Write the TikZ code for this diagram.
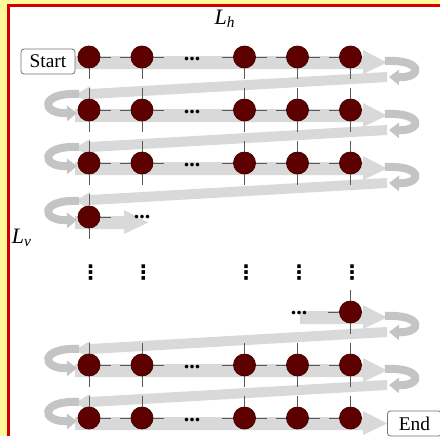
\documentclass[tikz,border=0pt]{standalone}
\usepackage{fontspec}
\setmainfont{Liberation Serif}
\newfontfamily\dotsfont{DejaVu Sans}
\usepackage{tikz}
\usetikzlibrary{arrows.meta}
\definecolor{framebg}{HTML}{FFFB9C}
\definecolor{framered}{HTML}{D40000}
\definecolor{sitered}{HTML}{5E0000}
\definecolor{bandgray}{HTML}{D9D9D9}
\definecolor{turngray}{HTML}{C4C4C4}
\tikzset{
  site/.style={circle,fill=sitered,draw=sitered!70!black,line width=0.4pt,inner sep=0pt,minimum size=11pt},
  link/.style={draw=black!65,line width=0.5pt,dash pattern=on 5.5pt off 4.5pt on 5.5pt off 20pt},
  stub/.style={draw=black!65,line width=0.5pt,dash pattern=on 5.5pt off 100pt},
  uturn/.style={draw=turngray,line width=4pt,-{Triangle[length=5pt,width=7.5pt]}},
  tag/.style={draw=black!55,fill=white,rounded corners=1.5pt,line width=0.4pt,minimum width=27pt,minimum height=12.5pt,inner sep=0pt,font=\fontsize{9.7}{10}\selectfont},
  dotrow/.style={inner sep=0pt,font=\fontsize{11}{11}\selectfont\bfseries},
  dotcol/.style={inner sep=0pt,font=\fontsize{10}{10}\selectfont\dotsfont\bfseries},
  size/.style={inner sep=0pt,font=\fontsize{11}{12}\selectfont\itshape}
}
\newcommand{\rowband}[3]{\fill[bandgray] (#1,#3-1) -- (#2-24,#3-1) -- (#2-24,#3-7) -- (#2,#3+5.5) -- (#2-24,#3+17) -- (#2-24,#3+12) -- (#1,#3+12) -- cycle;}
\newcommand{\backband}[1]{\fill[bandgray] (387,#1+15) -- (90,#1+32) -- (90,#1+29) -- (75,#1+38) -- (90,#1+46) -- (90,#1+42) -- (387,#1+25) -- cycle;}
\newcommand{\rightturn}[1]{\draw[uturn] (385,#1+4) .. controls (423,#1+2) and (423,#1+21) .. (389,#1+20);}
\newcommand{\leftturn}[1]{\draw[uturn] (79,#1-16) .. controls (40,#1-18) and (40,#1+4) .. (77,#1+3);}

\begin{document}
\begin{tikzpicture}[x=0.5pt,y=-0.5pt]
  \useasboundingbox (0,0) rectangle (440,436);
  \fill[framebg] (0,0) rectangle (440,436);
  \fill[white] (8.7,5.3) rectangle (440,436);
  \draw[framered,line width=1.35pt] (8.7,436) -- (8.7,5.3) -- (440,5.3);

  \foreach \y in {57,110,163,365,418} {\rowband{75}{387}{\y}}
  \rowband{75}{148}{217}
  \rowband{300}{387}{312}
  \foreach \y in {57,110,163,312,365} {\backband{\y}\rightturn{\y}}
  \foreach \y in {110,163,217,365,418} {\leftturn{\y}}

  \node[tag] (start) at (48,61.5) {Start};
  \node[tag] (end) at (414.5,423.5) {End};
  \node[size] (lh) at (225,19) {L\textsubscript{h}};
  \node[size] (lv) at (22,238) {L\textsubscript{v}};

  \foreach \r/\y in {1/57,2/110,3/163,6/365,7/418}{
    \foreach \c/\x in {1/89,2/142,3/244.5,4/297.5,5/350.5}
      \node[site] (n-\r-\c) at (\x,\y) {};
    \node[dotrow] (h-\r) at (192,\y+2) {...};
  }
  \node[site] (n-4-1) at (89,217) {};
  \node[site] (n-5-5) at (350.5,312) {};
  \node[dotrow] (h-4) at (142,217) {...};
  \node[dotrow] (h-5) at (299,313) {...};
  \foreach \c/\x in {1/89,2/142,3/244.5,4/297.5,5/350.5}
    \node[dotcol] (v-\c) at (\x+1.5,272.5) {⋮};

  \foreach \r in {1,2,3,6,7}{
    \draw[link] (n-\r-1) -- (n-\r-2);
    \draw[stub] (n-\r-2) -- (n-\r-3);
    \draw[stub] (n-\r-3) -- (n-\r-2);
    \draw[link] (n-\r-3) -- (n-\r-4);
    \draw[link] (n-\r-4) -- (n-\r-5);
  }
  \foreach \r/\s in {1/2,2/3,6/7}
    \foreach \c in {1,...,5}
      \draw[link] (n-\r-\c) -- (n-\s-\c);
  \draw[link] (n-3-1) -- (n-4-1);
  \draw[link] (n-5-5) -- (n-6-5);
  \foreach \c in {2,3,4}{
    \draw[stub] (n-3-\c) -- (n-6-\c);
    \draw[stub] (n-6-\c) -- (n-3-\c);
  }
  \draw[stub] (n-4-1) -- (n-6-1);
  \draw[stub] (n-6-1) -- (n-4-1);
  \draw[stub] (n-3-5) -- (n-5-5);
  \draw[stub] (n-5-5) -- (n-3-5);
  \draw[stub] (n-4-1) -- (h-4);
  \draw[stub] (n-5-5) -- (h-5);
\end{tikzpicture}
\end{document}
